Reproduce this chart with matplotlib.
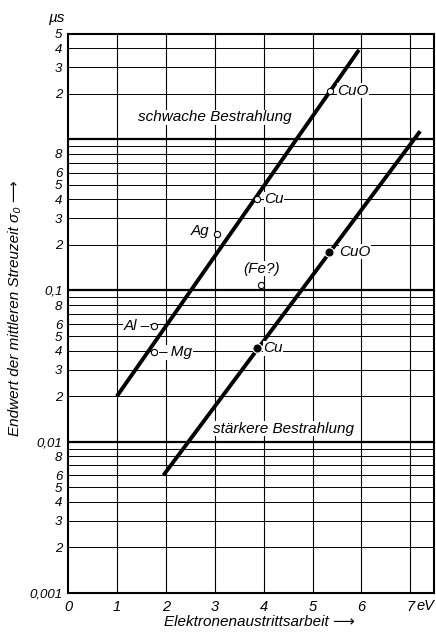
import matplotlib
matplotlib.use("Agg")
import matplotlib.pyplot as plt
from matplotlib import ticker

# open circles: schwache Bestrahlung
weak_names = ["CuO", "Cu", "Ag", "(Fe?)", "Al", "Mg"]
weak_ev = [5.36, 3.87, 3.04, 3.95, 1.76, 1.76]
weak_tau = [2.1, 0.40, 0.237, 0.108, 0.058, 0.039]

# filled dots: stärkere Bestrahlung
strong_names = ["CuO", "Cu"]
strong_ev = [5.34, 3.87]
strong_tau = [0.181, 0.0415]

# fitted lines
weak_line_ev = [1.0, 5.95]
weak_line_tau = [0.02, 3.9]
strong_line_ev = [1.95, 7.2]
strong_line_tau = [0.006, 1.13]

x_ticks = [0, 1, 2, 3, 4, 5, 6, 7]
x_tick_labels = ["0", "1", "2", "3", "4", "5", "6", "7"]
y_ticks = [0.001, 0.002, 0.003, 0.004, 0.005, 0.006, 0.008,
           0.01, 0.02, 0.03, 0.04, 0.05, 0.06, 0.08,
           0.1, 0.2, 0.3, 0.4, 0.5, 0.6, 0.8,
           2, 3, 4, 5]
y_tick_labels = ["0,001", "2", "3", "4", "5", "6", "8",
                 "0,01", "2", "3", "4", "5", "6", "8",
                 "0,1", "2", "3", "4", "5", "6", "8",
                 "2", "3", "4", "5"]

font = {"family": ["Liberation Sans", "DejaVu Sans"], "style": "italic"}

fig = plt.figure(figsize=(4.36, 6.36), dpi=100)
ax = fig.add_axes([0.156, 0.0676, 0.839, 0.8797])
ax.set_yscale("log")
ax.set_xlim(0, 7.48)
ax.set_ylim(0.001, 5)

# grid
for d in [0.001, 0.01, 0.1]:
    for m in range(2, 10):
        ax.axhline(d * m, color="black", lw=0.7, zorder=1)
for v in [2, 3, 4]:
    ax.axhline(v, color="black", lw=0.7, zorder=1)
for v in [0.01, 0.1, 1]:
    ax.axhline(v, color="black", lw=1.6, zorder=1)
for v in x_ticks[1:]:
    ax.axvline(v, color="black", lw=0.8, zorder=1)

for s in ax.spines.values():
    s.set_linewidth(1.5)

ax.plot(weak_line_ev, weak_line_tau, color="black", lw=2.8,
        solid_capstyle="butt", zorder=3)
ax.plot(strong_line_ev, strong_line_tau, color="black", lw=2.8,
        solid_capstyle="butt", zorder=3)

ax.plot(weak_ev, weak_tau, "o", ms=4.5, mfc="white", mec="black",
        mew=0.8, zorder=5)
ax.plot(strong_ev, strong_tau, "o", ms=6.5, mfc="white", mec="white",
        zorder=4)
ax.plot(strong_ev, strong_tau, "o", ms=4.8, mfc="black", mec="black",
        zorder=5)

weak_offsets = [(5, 0, "left"), (5, 0, "left"), (-5, 2, "right"),
                (0, 12, "center"), (-3, 0, "right"), (3, 0, "left")]
weak_texts = ["CuO", "Cu", "Ag", "(Fe?)", "Al –", "– Mg"]
for t, x, y, off in zip(weak_texts, weak_ev, weak_tau, weak_offsets):
    ax.annotate(t, (x, y), xytext=(off[0], off[1]), textcoords="offset points",
                ha=off[2], va="center", fontsize=11, zorder=6,
                bbox=dict(fc="white", ec="none", pad=0.2), **font)
strong_offsets = [(7, 0, "left"), (4, 0, "left")]
for t, x, y, off in zip(strong_names, strong_ev, strong_tau, strong_offsets):
    ax.annotate(t, (x, y), xytext=(off[0], off[1]), textcoords="offset points",
                ha=off[2], va="center", fontsize=11, zorder=6,
                bbox=dict(fc="white", ec="none", pad=0.2), **font)

ax.text(3.0, 1.4, "schwache Bestrahlung", ha="center", va="center",
        fontsize=11, zorder=6, bbox=dict(fc="white", ec="none", pad=0.4), **font)
ax.text(4.4, 0.0122, "stärkere Bestrahlung", ha="center", va="center",
        fontsize=11, zorder=2, bbox=dict(fc="white", ec="none", pad=0.4), **font)

ax.set_xticks(x_ticks)
ax.set_xticklabels(x_tick_labels, fontsize=10.5, **font)
ax.yaxis.set_minor_locator(ticker.NullLocator())
ax.set_yticks(y_ticks)
ax.set_yticklabels(y_tick_labels, fontsize=9.5, **font)
ax.tick_params(axis="y", length=0, pad=4)
ax.tick_params(axis="x", length=0, pad=5)

ax.text(7.13, -0.011, "eV", transform=ax.get_xaxis_transform(), ha="left",
        va="top", fontsize=10.5, **font)
fig.text(0.13, 0.972, "µs", ha="center", va="center", fontsize=11, **font)

fig.text(0.595, 0.022, "Elektronenaustrittsarbeit ⟶", ha="center",
         va="center", fontsize=11, **font)
fig.text(0.035, 0.515, "Endwert der mittleren Streuzeit σ₀ ⟶", ha="center",
         va="center", rotation=90, fontsize=11, **font)

fig.savefig("out.png", dpi=100)
